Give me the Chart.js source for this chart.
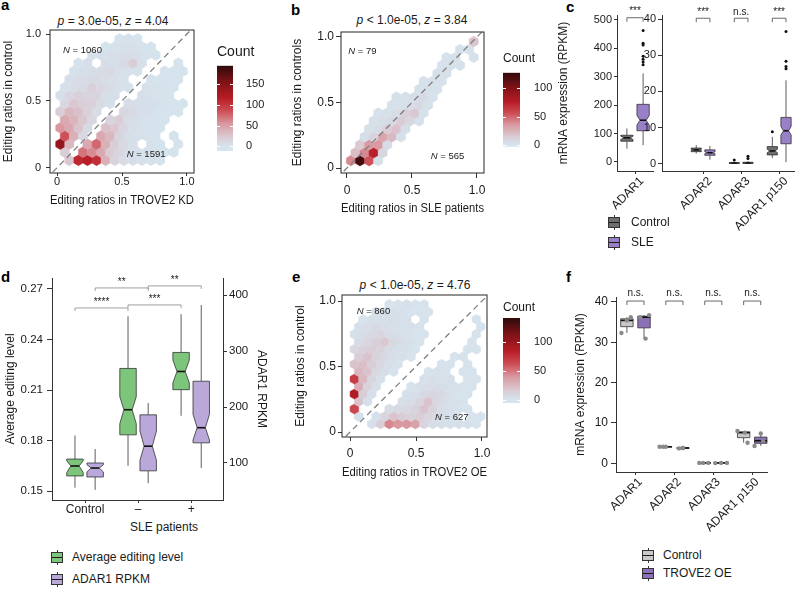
<!DOCTYPE html>
<html>
<head>
<meta charset="utf-8">
<title>ADAR editing figure</title>
<script src="https://cdn.jsdelivr.net/npm/chart.js@4.4.1/dist/chart.umd.min.js"></script>
<style>
  html, body { margin: 0; padding: 0; overflow: hidden; background: #fff; }
  #fig { position: relative; width: 798px; height: 589px; overflow: hidden; font-family: "Liberation Sans", Arial, sans-serif; color: #1a1a1a; }
  #fig canvas { position: absolute; }
  .ttl { position: absolute; font-size: 12px; line-height: 12px; white-space: nowrap; transform: translateX(-50%); }
  .txt { position: absolute; font-size: 12px; line-height: 12px; white-space: nowrap; }
  .let { position: absolute; font-size: 15px; line-height: 15px; font-weight: bold; color: #000; }
  .key { position: absolute; width: 12px; height: 15px; background: linear-gradient(#333, #333) no-repeat center / 1px 100%; }
  .key i { position: absolute; left: 0; top: 2px; width: 10px; height: 9px; border: 1px solid #333; }
  .key i::after { content: ""; position: absolute; left: 0; right: 0; top: 4px; border-top: 1px solid #1a1a1a; }
</style>
</head>
<body>
<div id="fig">
  <div class="let" style="left:1px;top:-3px">a</div>
  <div class="let" style="left:291px;top:2px">b</div>
  <div class="let" style="left:566px;top:-1px">c</div>
  <div class="let" style="left:1px;top:269px">d</div>
  <div class="let" style="left:292px;top:269px">e</div>
  <div class="let" style="left:566px;top:269px">f</div>

  <div class="ttl" style="left:113px;top:15px"><i>p</i> = 3.0e-05, <i>z</i> = 4.04</div>
  <div class="ttl" style="left:412px;top:14px"><i>p</i> &lt; 1.0e-05, <i>z</i> = 3.84</div>
  <div class="ttl" style="left:415px;top:279px"><i>p</i> &lt; 1.0e-05, <i>z</i> = 4.76</div>
  <div class="ttl" style="left:164px;top:521px">SLE patients</div>

  <canvas id="ca" width="205" height="190" style="left:0;top:24px"></canvas>
  <canvas id="kA" width="56" height="112" style="left:217px;top:44px"></canvas>
  <canvas id="cb" width="200" height="192" style="left:289px;top:26px"></canvas>
  <canvas id="kB" width="50" height="100" style="left:503px;top:51px"></canvas>
  <canvas id="cL" width="108" height="250" style="left:550px;top:0"></canvas>
  <canvas id="cR" width="158" height="250" style="left:640px;top:0"></canvas>
  <canvas id="cd" width="280" height="280" style="left:0;top:260px"></canvas>
  <canvas id="ce" width="200" height="195" style="left:291px;top:289px"></canvas>
  <canvas id="kE" width="50" height="108" style="left:503px;top:300px"></canvas>
  <canvas id="cf" width="214" height="260" style="left:566px;top:285px"></canvas>

  <div class="key" style="left:608px;top:215px"><i style="background:#6e6e6e"></i></div>
  <div class="txt" style="left:631px;top:216px">Control</div>
  <div class="key" style="left:608px;top:235px"><i style="background:#9a80c8"></i></div>
  <div class="txt" style="left:631px;top:236px">SLE</div>

  <div class="key" style="left:51px;top:550px"><i style="background:#7cc57a"></i></div>
  <div class="txt" style="left:72px;top:551px">Average editing level</div>
  <div class="key" style="left:51px;top:572px"><i style="background:#b9a8d9"></i></div>
  <div class="txt" style="left:72px;top:573px">ADAR1 RPKM</div>

  <div class="key" style="left:642px;top:548px"><i style="background:#c8c8c8"></i></div>
  <div class="txt" style="left:663px;top:549px">Control</div>
  <div class="key" style="left:642px;top:566px"><i style="background:#8c70b8"></i></div>
  <div class="txt" style="left:663px;top:567px">TROVE2 OE</div>
</div>

<script>
// ---------- data ----------

// hexbin counts, rows from bottom to top, columns left to right (odd rows shifted half a bin)
const hexBinsA = { x0: 0.024, y0: 0.055, dx: 0.07, dy: 0.0606 };
const hexCountsA = [
  [0, 25, 110, 115, 105, 40, 15, 8, 5, 4, 3, 2, 0, 0, 0],
  [20, 0, 70, 60, 45, 22, 12, 6, 4, 3, 3, 2, 2, 0, 0],
  [140, 35, 0, 45, 75, 40, 20, 10, 5, 0, 3, 2, 0, 2, 0],
  [85, 40, 12, 0, 45, 35, 15, 6, 4, 3, 2, 0, 2, 0, 0],
  [55, 45, 28, 10, 0, 30, 25, 12, 6, 4, 3, 2, 0, 0, 0],
  [45, 38, 25, 12, 0, 15, 20, 8, 5, 3, 2, 2, 0, 0, 0],
  [20, 35, 30, 18, 8, 0, 0, 12, 10, 5, 4, 2, 2, 2, 0],
  [12, 25, 20, 18, 8, 4, 0, 8, 6, 5, 4, 3, 2, 2, 0],
  [5, 12, 18, 15, 16, 6, 5, 0, 0, 5, 4, 3, 2, 0, 0],
  [4, 8, 10, 18, 12, 8, 4, 3, 0, 4, 3, 3, 2, 0, 0],
  [0, 5, 7, 9, 10, 8, 6, 4, 0, 0, 3, 2, 2, 2, 0],
  [0, 3, 5, 7, 9, 10, 6, 4, 3, 0, 0, 2, 2, 2, 0],
  [0, 0, 3, 5, 0, 7, 6, 10, 20, 4, 0, 0, 0, 2, 0],
  [0, 0, 0, 3, 4, 5, 6, 7, 5, 3, 2, 0, 0, 0, 0],
  [0, 0, 0, 0, 0, 2, 3, 4, 4, 3, 2, 0, 0, 0, 0],
  [0, 0, 0, 0, 0, 0, 2, 3, 2, 0, 0, 0, 0, 0, 0]
];
const countRangeA = [-11, 195];
const countTicksA = [0, 50, 100, 150];
const nLabelsA = [1060, 1591];

const hexBinsB = { x0: 0.03, y0: 0.056, dx: 0.07, dy: 0.0606 };
const hexCountsB = [
  [40, 120, 55, 3, 0, 0, 0, 0, 0, 0, 0, 0, 0, 0, 0],
  [20, 40, 75, 8, 0, 0, 0, 0, 0, 0, 0, 0, 0, 0, 0],
  [0, 15, 35, 35, 5, 0, 0, 0, 0, 0, 0, 0, 0, 0, 0],
  [0, 4, 10, 30, 22, 3, 0, 0, 0, 0, 0, 0, 0, 0, 0],
  [0, 0, 3, 5, 14, 18, 4, 0, 0, 0, 0, 0, 0, 0, 0],
  [0, 0, 3, 4, 6, 14, 8, 2, 0, 0, 0, 0, 0, 0, 0],
  [0, 0, 0, 2, 3, 5, 12, 16, 2, 0, 0, 0, 0, 0, 0],
  [0, 0, 0, 0, 2, 3, 5, 6, 3, 0, 0, 0, 0, 0, 0],
  [0, 0, 0, 0, 0, 3, 3, 4, 6, 2, 0, 0, 0, 0, 0],
  [0, 0, 0, 0, 0, 0, 0, 3, 3, 2, 0, 0, 0, 0, 0],
  [0, 0, 0, 0, 0, 0, 0, 0, 2, 3, 2, 0, 0, 0, 0],
  [0, 0, 0, 0, 0, 0, 0, 0, 0, 3, 3, 0, 0, 0, 0],
  [0, 0, 0, 0, 0, 0, 0, 0, 0, 0, 2, 3, 2, 0, 0],
  [0, 0, 0, 0, 0, 0, 0, 0, 0, 0, 2, 3, 0, 2, 0],
  [0, 0, 0, 0, 0, 0, 0, 0, 0, 0, 0, 0, 2, 2, 0],
  [0, 0, 0, 0, 0, 0, 0, 0, 0, 0, 0, 0, 0, 18, 0]
];
const countRangeB = [-3, 127];
const countTicksB = [0, 50, 100];
const nLabelsB = [79, 565];

const hexBinsE = { x0: 0.033, y0: 0.062, dx: 0.066, dy: 0.057 };
const hexCountsE = [
  [0, 0, 3, 15, 45, 40, 40, 35, 10, 5, 4, 3, 3, 3, 2, 0],
  [3, 0, 3, 10, 20, 15, 12, 15, 10, 6, 4, 3, 0, 2, 2, 0],
  [65, 0, 0, 0, 5, 8, 8, 12, 20, 12, 5, 3, 2, 2, 0, 0],
  [20, 3, 0, 0, 0, 4, 5, 10, 20, 8, 5, 3, 2, 0, 0, 0],
  [88, 15, 3, 0, 0, 0, 3, 4, 8, 10, 8, 4, 2, 2, 0, 0],
  [30, 12, 4, 0, 0, 0, 2, 4, 5, 6, 4, 3, 2, 2, 0, 0],
  [70, 25, 10, 3, 0, 0, 0, 0, 3, 4, 3, 4, 0, 2, 2, 0],
  [25, 20, 8, 4, 2, 0, 0, 0, 2, 3, 2, 0, 2, 2, 0, 0],
  [20, 22, 15, 8, 4, 2, 0, 0, 0, 0, 2, 2, 0, 2, 0, 0],
  [15, 20, 12, 8, 5, 3, 2, 0, 0, 0, 0, 2, 2, 0, 0, 0],
  [8, 12, 15, 12, 6, 4, 3, 2, 0, 0, 0, 0, 0, 2, 2, 0],
  [6, 10, 14, 18, 8, 5, 3, 2, 0, 0, 0, 0, 0, 2, 0, 0],
  [3, 6, 8, 10, 6, 5, 3, 2, 2, 0, 0, 0, 0, 0, 2, 0],
  [3, 5, 8, 5, 4, 3, 3, 2, 0, 0, 0, 0, 0, 0, 2, 0],
  [0, 2, 4, 4, 5, 4, 3, 0, 2, 0, 0, 0, 0, 0, 2, 0],
  [0, 0, 3, 3, 4, 3, 2, 2, 2, 0, 0, 0, 0, 0, 0, 0],
  [0, 0, 0, 0, 2, 2, 3, 2, 2, 0, 0, 0, 0, 0, 0, 0]
];
const countRangeE = [-5, 141];
const countTicksE = [0, 50, 100];
const nLabelsE = [860, 627];

const ratioTicks = [0, 0.5, 1];

// c: boxes as [lower whisker, Q1, notch low, median, notch high, Q3, upper whisker]
const cLeftGroups = ["ADAR1"];
const cLeftTicks = [0, 100, 200, 300, 400, 500];
const cLeftControl = [[47, 73, 79, 85, 91, 94, 118]];
const cLeftSLE = [[59, 110, 130, 147, 164, 203, 312]];
const cLeftControlOut = [[]];
const cLeftSLEOut = [[342, 352, 362, 372, 412, 418, 463]];
const cLeftSig = ["***"];

const cRightGroups = ["ADAR2", "ADAR3", "ADAR1 p150"];
const cRightTicks = [0, 10, 20, 30, 40];
const cRightControl = [[2.8, 3.3, 3.6, 3.8, 4.0, 4.3, 5.1], [0, 0.05, 0.1, 0.15, 0.2, 0.3, 0.5], [1.5, 2.4, 3.0, 3.5, 4.0, 4.7, 7.4]];
const cRightSLE = [[1.1, 2.3, 2.7, 3.0, 3.3, 3.8, 4.9], [0, 0.05, 0.1, 0.15, 0.2, 0.35, 0.7], [0.4, 5.5, 7.9, 9.1, 10.3, 12.8, 23.1]];
const cRightControlOut = [[], [1.0], [8.8]];
const cRightSLEOut = [[], [1.4, 2.0], [26.3, 26.9, 28.4, 36.6]];
const cRightSig = ["***", "n.s.", "***"];

// d: average editing level (left axis) and ADAR1 RPKM (right axis)
const dGroups = ["Control", "\u2013", "+"];
const dEditTicks = [0.15, 0.18, 0.21, 0.24, 0.27];
const dRpkmTicks = [100, 200, 300, 400];
const dEditing = [[0.152, 0.159, 0.161, 0.1649, 0.168, 0.169, 0.183], [0.165, 0.1834, 0.190, 0.1983, 0.206, 0.2228, 0.2538], [0.1947, 0.2102, 0.2142, 0.221, 0.2278, 0.2323, 0.255]];
const dRpkm = [[52, 75, 84, 91, 97, 100, 125], [64, 86, 105, 130, 157, 186, 207], [91, 136, 141, 163, 187, 246, 382]];
const dSig = ["****", "***", "**", "**"];

// f: boxes as [min, Q1, median, Q3, max] plus the replicate points
const fGroups = ["ADAR1", "ADAR2", "ADAR3", "ADAR1 p150"];
const fTicks = [0, 10, 20, 30, 40];
const fControlBox = [[32.3, 33.85, 35.4, 35.8, 36.2], [4.1, 4.1, 4.1, 4.1, 4.1], [0.1, 0.1, 0.1, 0.1, 0.1], [5.1, 6.35, 7.6, 7.8, 8.0]];
const fOEBox = [[30.9, 33.55, 36.2, 36.45, 36.7], [3.7, 3.75, 3.8, 3.8, 3.8], [0.05, 0.08, 0.1, 0.1, 0.1], [4.3, 4.95, 5.6, 6.5, 7.4]];
const fControlPts = [[32.3, 35.4, 36.2], [4.1, 4.1, 4.1], [0.1, 0.1, 0.1], [5.1, 7.6, 8.0]];
const fOEPts = [[30.9, 36.2, 36.7], [3.7, 3.8, 3.8], [0.05, 0.1, 0.1], [4.3, 5.6, 7.4]];
const fControlJitter = [[-0.14, 0, 0.1], [-0.16, -0.07, 0], [-0.14, -0.04, 0.09], [0.1, 0.03, -0.16]];
const fOEJitter = [[0.04, -0.1, 0.13], [-0.1, 0, 0], [-0.17, -0.02, 0.13], [-0.16, 0.06, 0]];
const fSig = ["n.s.", "n.s.", "n.s.", "n.s."];

// ---------- chart setup ----------
const FONT = '"Liberation Sans", Arial, sans-serif';
Chart.defaults.font.family = FONT;
Chart.defaults.font.size = 12;
Chart.defaults.color = "#1a1a1a";
Chart.defaults.animation = false;
Chart.defaults.events = [];
Chart.defaults.plugins.legend.display = false;
Chart.defaults.plugins.tooltip.enabled = false;

// light blue -> pink -> red -> dark red, as in the Count legends
const heatStops = [
  [0.00, [213, 229, 239]],
  [0.12, [218, 202, 211]],
  [0.28, [217, 153, 160]],
  [0.45, [204, 74, 82]],
  [0.60, [184, 28, 37]],
  [0.80, [126, 18, 23]],
  [1.00, [46, 10, 12]]
];
function heat(t) {
  t = Math.max(0, Math.min(1, t));
  for (let k = 1; k < heatStops.length; k++) {
    const [t1, c1] = heatStops[k];
    if (t <= t1) {
      const [t0, c0] = heatStops[k - 1];
      const f = (t - t0) / (t1 - t0);
      return "rgb(" + c0.map((c, i) => Math.round(c + (c1[i] - c) * f)).join(",") + ")";
    }
  }
  return "rgb(46,10,12)";
}

function fit(size, horizontal) {
  return s => {
    if (horizontal) s.height = size; else s.width = size;
    s.paddingTop = s.paddingBottom = s.paddingLeft = s.paddingRight = 0;
  };
}
function fixTicks(values) {
  return s => { s.ticks = values.map(v => ({ value: v })); };
}
const ratioLabel = v => (v === 0 ? "0" : v.toFixed(1));

function hexPoints(bins, rows) {
  const pts = [];
  rows.forEach((row, j) => row.forEach((n, i) => {
    if (n > 0) pts.push({ x: bins.x0 + i * bins.dx + (j % 2 ? bins.dx / 2 : 0), y: bins.y0 + j * bins.dy, n });
  }));
  return pts;
}
function groupPoints(groups, shift, jitter) {
  return groups.flatMap((vals, i) => vals.map((v, k) => ({ x: i + 1 + shift + (jitter ? jitter[i][k] : 0), y: v })));
}
function sigItems(labels, shift, level) {
  return labels.map((label, i) => ({ x1: i + 1 - shift, x2: i + 1 + shift, y: level, label }));
}

// hexagons at the positions the scatter controller computed
Chart.register({
  id: "hexes",
  beforeDatasetsDraw(chart) {
    const ds = chart.data.datasets[0];
    if (!ds || !ds.hexBins) return;
    const { ctx, chartArea: a, scales: { x, y } } = chart;
    const b = ds.hexBins;
    const hw = Math.abs(x.getPixelForValue(b.dx) - x.getPixelForValue(0)) / 2;
    const r = Math.abs(y.getPixelForValue(b.dy) - y.getPixelForValue(0)) / 1.5;
    ctx.save();
    ctx.beginPath();
    ctx.rect(a.left, a.top, a.right - a.left, a.bottom - a.top);
    ctx.clip();
    chart.getDatasetMeta(0).data.forEach((el, i) => {
      const col = heat(ds.data[i].n / ds.countMax);
      ctx.beginPath();
      ctx.moveTo(el.x, el.y - r);
      ctx.lineTo(el.x + hw, el.y - r / 2);
      ctx.lineTo(el.x + hw, el.y + r / 2);
      ctx.lineTo(el.x, el.y + r);
      ctx.lineTo(el.x - hw, el.y + r / 2);
      ctx.lineTo(el.x - hw, el.y - r / 2);
      ctx.closePath();
      ctx.fillStyle = col;
      ctx.fill();
      ctx.strokeStyle = col;
      ctx.lineWidth = 0.5;
      ctx.stroke();
    });
    ctx.restore();
  }
});

Chart.register({
  id: "frame",
  afterDatasetsDraw(chart, args, o) {
    if (!o.on) return;
    const { ctx, chartArea: a } = chart;
    ctx.save();
    ctx.strokeStyle = "#262626";
    ctx.lineWidth = 1;
    ctx.strokeRect(a.left, a.top, a.right - a.left, a.bottom - a.top);
    ctx.restore();
  }
});

// "N = ..." labels inside the hexbin panels
Chart.register({
  id: "notes",
  afterDatasetsDraw(chart, args, o) {
    if (!o.items) return;
    const { ctx, scales: { x, y } } = chart;
    ctx.save();
    ctx.fillStyle = "#1a1a1a";
    ctx.textBaseline = "middle";
    ctx.textAlign = "left";
    o.items.forEach(n => {
      const px = x.getPixelForValue(n.x), py = y.getPixelForValue(n.y);
      ctx.font = "italic " + o.size + "px " + FONT;
      ctx.fillText("N", px, py);
      const w = ctx.measureText("N").width;
      ctx.font = o.size + "px " + FONT;
      ctx.fillText(" = " + n.value, px + w, py);
    });
    ctx.restore();
  }
});

// box plots (notched when 7 numbers are given)
Chart.register({
  id: "boxes",
  beforeDatasetsDraw(chart, args, o) {
    if (!o.series) return;
    const { ctx } = chart;
    const xs = chart.scales.x;
    o.series.forEach(s => {
      const ys = chart.scales[s.yAxis || "y"];
      const half = Math.abs(xs.getPixelForValue(s.width / 2) - xs.getPixelForValue(0));
      s.stats.forEach((st, i) => {
        const cx = xs.getPixelForValue(i + 1 + s.shift);
        const py = v => ys.getPixelForValue(v);
        let lo, q1, nlo = null, med, nhi = null, q3, hi;
        if (st.length === 7) [lo, q1, nlo, med, nhi, q3, hi] = st;
        else [lo, q1, med, q3, hi] = st;
        const L = cx - half, R = cx + half, ins = nlo === null ? 0 : half * 0.5;
        ctx.save();
        ctx.strokeStyle = "#333";
        ctx.lineWidth = 0.8;
        ctx.beginPath();
        ctx.moveTo(cx, py(lo)); ctx.lineTo(cx, py(q1));
        ctx.moveTo(cx, py(q3)); ctx.lineTo(cx, py(hi));
        ctx.stroke();
        ctx.beginPath();
        if (nlo !== null) {
          ctx.moveTo(L, py(q1)); ctx.lineTo(L, py(nlo)); ctx.lineTo(L + ins, py(med)); ctx.lineTo(L, py(nhi)); ctx.lineTo(L, py(q3));
          ctx.lineTo(R, py(q3)); ctx.lineTo(R, py(nhi)); ctx.lineTo(R - ins, py(med)); ctx.lineTo(R, py(nlo)); ctx.lineTo(R, py(q1));
          ctx.closePath();
        } else {
          ctx.rect(L, py(q3), R - L, py(q1) - py(q3));
        }
        ctx.fillStyle = s.fill;
        ctx.fill();
        ctx.stroke();
        ctx.strokeStyle = "#111";
        ctx.lineWidth = 1.6;
        ctx.beginPath();
        ctx.moveTo(L + ins, py(med)); ctx.lineTo(R - ins, py(med));
        ctx.stroke();
        ctx.restore();
      });
    });
  }
});

// significance brackets
Chart.register({
  id: "brackets",
  afterDatasetsDraw(chart, args, o) {
    if (!o.items) return;
    const { ctx } = chart;
    const xs = chart.scales.x, ys = chart.scales[o.yAxis || "y"];
    ctx.save();
    ctx.strokeStyle = o.color || "#555";
    ctx.lineWidth = 0.8;
    ctx.fillStyle = "#1a1a1a";
    ctx.font = o.size + "px " + FONT;
    ctx.textAlign = "center";
    ctx.textBaseline = "bottom";
    o.items.forEach(b => {
      const x1 = xs.getPixelForValue(b.x1), x2 = xs.getPixelForValue(b.x2), y = ys.getPixelForValue(b.y);
      ctx.beginPath();
      ctx.moveTo(x1, y + o.tip); ctx.lineTo(x1, y); ctx.lineTo(x2, y); ctx.lineTo(x2, y + o.tip);
      ctx.stroke();
      ctx.fillText(b.label, (x1 + x2) / 2, y - (o.gap || 1));
    });
    ctx.restore();
  }
});

Chart.register({
  id: "cbarTicks",
  afterDatasetsDraw(chart, args, o) {
    if (!o.on) return;
    const { ctx, chartArea: a, scales: { y } } = chart;
    ctx.save();
    ctx.strokeStyle = "#fff";
    ctx.lineWidth = 1;
    y.ticks.forEach(t => {
      const p = Math.round(y.getPixelForValue(t.value)) + 0.5;
      ctx.beginPath();
      ctx.moveTo(a.left, p); ctx.lineTo(a.left + 3, p);
      ctx.moveTo(a.right - 3, p); ctx.lineTo(a.right, p);
      ctx.stroke();
    });
    ctx.restore();
  }
});

function hexPanel(id, bins, rows, range, notes, xTitle, yTitle, L) {
  new Chart(document.getElementById(id), {
    type: "scatter",
    data: {
      datasets: [
        { data: hexPoints(bins, rows), pointRadius: 0, hexBins: bins, countMax: range[1] },
        { data: [{ x: -1, y: -1 }, { x: 2, y: 2 }], showLine: true, pointRadius: 0, borderColor: "#808080", borderWidth: 1.3, borderDash: [6, 4], clip: 0 }
      ]
    },
    options: {
      responsive: false,
      layout: { padding: L.pad },
      scales: {
        x: {
          type: "linear", min: L.x[0], max: L.x[1],
          afterFit: fit(L.xh, true), afterBuildTicks: fixTicks(ratioTicks),
          grid: { drawOnChartArea: false, tickLength: L.tlx, color: "#333" },
          border: { display: false },
          ticks: { font: { size: L.tick, lineHeight: 1 }, padding: L.padx, callback: ratioLabel, autoSkip: false, maxRotation: 0 },
          title: { display: true, text: xTitle, font: { size: 12 }, padding: { top: 0, bottom: 0 } }
        },
        y: {
          type: "linear", min: L.y[0], max: L.y[1],
          afterFit: fit(L.yw), afterBuildTicks: fixTicks(ratioTicks),
          grid: { drawOnChartArea: false, tickLength: L.tly, color: "#333" },
          border: { display: false },
          ticks: { font: { size: L.tick, lineHeight: 1 }, padding: L.pady, callback: ratioLabel, autoSkip: false },
          title: { display: true, text: yTitle, font: { size: 12 }, padding: { top: L.ytp, bottom: 0 } }
        }
      },
      plugins: { frame: { on: true }, notes: { size: 9.5, items: notes } }
    }
  });
}

function colorBar(id, range, ticks, L) {
  new Chart(document.getElementById(id), {
    type: "bar",
    data: {
      labels: ["Count"],
      datasets: [{
        data: [range],
        barPercentage: 1,
        categoryPercentage: 1,
        backgroundColor: c => {
          const { ctx, chartArea, scales } = c.chart;
          if (!chartArea) return null;
          const g = ctx.createLinearGradient(0, scales.y.getPixelForValue(0), 0, scales.y.getPixelForValue(range[1]));
          heatStops.forEach(([t, col]) => g.addColorStop(t, "rgb(" + col.join(",") + ")"));
          return g;
        }
      }]
    },
    options: {
      responsive: false,
      layout: { padding: { left: 0, right: 0, top: 0, bottom: L.padBottom } },
      scales: {
        x: { display: false },
        y: {
          position: "right", min: range[0], max: range[1],
          afterFit: fit(L.axisW), afterBuildTicks: fixTicks(ticks),
          grid: { display: false }, border: { display: false },
          ticks: { font: { size: 11, lineHeight: 1 }, padding: L.tickPad }
        }
      },
      plugins: {
        title: { display: true, text: "Count", align: "start", font: { size: L.titleSize, weight: "normal" }, padding: { top: 0, bottom: L.titleGap }, color: "#1a1a1a" },
        cbarTicks: { on: true }
      }
    }
  });
}

// ---------- a, b, e ----------
hexPanel("ca", hexBinsA, hexCountsA, countRangeA,
  [{ x: 0.046, y: 0.88, value: nLabelsA[0] }, { x: 0.536, y: 0.097, value: nLabelsA[1] }],
  "Editing ratios in TROVE2 KD", "Editing ratios in control",
  { pad: { left: 0, top: 6, right: 11, bottom: 6 }, x: [-0.055, 1.055], y: [-0.04, 1.03], xh: 35, yw: 50, tick: 11, tlx: 3, padx: 0, tly: 4, pady: 5, ytp: 1 });
colorBar("kA", countRangeA, countTicksA, { padBottom: 5, axisW: 40, tickPad: 5, titleSize: 14, titleGap: 4.9 });

hexPanel("cb", hexBinsB, hexCountsB, countRangeB,
  [{ x: 0.01, y: 0.888, value: nLabelsB[0] }, { x: 0.644, y: 0.092, value: nLabelsB[1] }],
  "Editing ratios in SLE patients", "Editing ratios in controls",
  { pad: { left: 0, top: 6, right: 5, bottom: 2 }, x: [-0.046, 1.054], y: [-0.038, 1.038], xh: 43, yw: 52, tick: 12, tlx: 5, padx: 7, tly: 5, pady: 2, ytp: 1 });
colorBar("kB", countRangeB, countTicksB, { padBottom: 4.3, axisW: 33, tickPad: 6, titleSize: 12, titleGap: 7.3 });

hexPanel("ce", hexBinsE, hexCountsE, countRangeE,
  [{ x: 0.05, y: 0.918, value: nLabelsE[0] }, { x: 0.644, y: 0.112, value: nLabelsE[1] }],
  "Editing ratios in TROVE2 OE", "Editing ratios in control",
  { pad: { left: 0, top: 6, right: 4, bottom: 4 }, x: [-0.061, 1.038], y: [-0.038, 1.046], xh: 43, yw: 51, tick: 12, tlx: 4, padx: 7, tly: 4, pady: 2, ytp: 2 });
colorBar("kE", countRangeE, countTicksE, { padBottom: 5, axisW: 33, tickPad: 6, titleSize: 12, titleGap: 3.6 });

// ---------- box plot axes ----------
function groupAxis(min, max, labels, height, rot, shift) {
  return {
    type: "linear", min, max,
    afterFit: fit(height, true),
    afterBuildTicks: fixTicks(labels.map((_, i) => i + 1)),
    grid: { drawOnChartArea: false, tickLength: 3, color: "#333" },
    border: { color: "#333" },
    ticks: { autoSkip: false, minRotation: rot, maxRotation: rot, padding: 1, labelOffset: shift || 0, font: { size: 12, lineHeight: 1 }, callback: v => labels[Math.round(v) - 1] }
  };
}
function valueAxis(min, max, ticks, width, o) {
  return {
    type: "linear", min, max, position: o.position || "left",
    afterFit: fit(width), afterBuildTicks: fixTicks(ticks),
    grid: { drawOnChartArea: false, tickLength: o.tl || 4, color: "#333" },
    border: { color: "#333" },
    ticks: { font: { size: o.size || 11, lineHeight: 1 }, padding: o.pad || 2, callback: o.fmt || (v => String(v)) },
    title: { display: !!o.title, text: o.title || "", font: { size: 12 }, padding: { top: o.tp || 0, bottom: 0 } }
  };
}
const black = { pointRadius: 1.5, backgroundColor: "#111", borderWidth: 0 };

// ---------- c ----------
new Chart(document.getElementById("cL"), {
  type: "scatter",
  data: { datasets: [
    Object.assign({ data: groupPoints(cLeftControlOut, -0.27) }, black),
    Object.assign({ data: groupPoints(cLeftSLEOut, 0.27) }, black)
  ] },
  options: {
    responsive: false,
    layout: { padding: { left: 0, top: 15, right: 5, bottom: 0 } },
    scales: {
      x: groupAxis(0.4, 1.6, cLeftGroups, 79, 45, 7),
      y: valueAxis(-31.8, 517.6, cLeftTicks, 67, { title: "mRNA expression (RPKM)", tp: 6, tl: 3, pad: 2 })
    },
    plugins: {
      boxes: { series: [
        { stats: cLeftControl, shift: -0.27, width: 0.41, fill: "#6e6e6e" },
        { stats: cLeftSLE, shift: 0.27, width: 0.41, fill: "#9a80c8" }
      ] },
      brackets: { items: sigItems(cLeftSig, 0.27, 508), tip: 4, size: 10, gap: 1, color: "#444" }
    }
  }
});

new Chart(document.getElementById("cR"), {
  type: "scatter",
  data: { datasets: [
    Object.assign({ data: groupPoints(cRightControlOut, -0.18) }, black),
    Object.assign({ data: groupPoints(cRightSLEOut, 0.18) }, black)
  ] },
  options: {
    responsive: false,
    layout: { padding: { left: 0, top: 15, right: 0, bottom: 0 } },
    scales: {
      x: groupAxis(-0.08, 3.39, cRightGroups, 79, 45, 7),
      y: valueAxis(-2.06, 41.2, cRightTicks, 22, { tl: 4, pad: 2 })
    },
    plugins: {
      boxes: { series: [
        { stats: cRightControl, shift: -0.18, width: 0.27, fill: "#6e6e6e" },
        { stats: cRightSLE, shift: 0.18, width: 0.27, fill: "#9a80c8" }
      ] },
      brackets: { items: sigItems(cRightSig, 0.18, 40.3), tip: 4, size: 10, gap: 1, color: "#444" }
    }
  }
});

// ---------- d ----------
new Chart(document.getElementById("cd"), {
  type: "scatter",
  data: { datasets: [] },
  options: {
    responsive: false,
    layout: { padding: { left: 0, top: 18, right: 11, bottom: 10 } },
    scales: {
      x: groupAxis(0.377, 3.6, dGroups, 30, 0),
      y: valueAxis(0.1447, 0.2765, dEditTicks, 52, { title: "Average editing level", tp: 3, tl: 5, pad: 4, size: 11.5, fmt: v => v.toFixed(2) }),
      y2: valueAxis(33.9, 430.4, dRpkmTicks, 46, { position: "right", title: "ADAR1 RPKM", tp: 0, tl: 4, pad: 2, size: 11.5 })
    },
    plugins: {
      boxes: { series: [
        { stats: dEditing, shift: -0.19, width: 0.31, fill: "#7cc57a", yAxis: "y" },
        { stats: dRpkm, shift: 0.19, width: 0.31, fill: "#b9a8d9", yAxis: "y2" }
      ] },
      brackets: {
        yAxis: "y", tip: 3, size: 10, gap: 1, color: "#888",
        items: [
          { x1: 0.81, x2: 1.81, y: 0.2587, label: dSig[0] },
          { x1: 1.81, x2: 2.81, y: 0.2605, label: dSig[1] },
          { x1: 1.19, x2: 2.19, y: 0.2706, label: dSig[2] },
          { x1: 2.19, x2: 3.19, y: 0.2718, label: dSig[3] }
        ]
      }
    }
  }
});

// ---------- f ----------
new Chart(document.getElementById("cf"), {
  type: "scatter",
  data: { datasets: [
    { data: groupPoints(fControlPts, -0.22, fControlJitter), pointRadius: 2.2, backgroundColor: "#8a8a8a", borderWidth: 0 },
    { data: groupPoints(fOEPts, 0.22, fOEJitter), pointRadius: 2.2, backgroundColor: "#8a8a8a", borderWidth: 0 }
  ] },
  options: {
    responsive: false,
    layout: { padding: { left: 0, top: 12, right: 13, bottom: 0 } },
    scales: {
      x: groupAxis(0.5, 4.38, fGroups, 73, 45, 5),
      y: valueAxis(-2.15, 41.2, fTicks, 50, { title: "mRNA expression (RPKM)", tp: 7, tl: 5, pad: 3, size: 12 })
    },
    plugins: {
      boxes: { series: [
        { stats: fControlBox, shift: -0.22, width: 0.32, fill: "#c8c8c8" },
        { stats: fOEBox, shift: 0.22, width: 0.32, fill: "#8c70b8" }
      ] },
      brackets: { items: sigItems(fSig, 0.22, 40.2), tip: 4, size: 10, gap: 3, color: "#444" }
    }
  }
});
</script>
</body>
</html>
